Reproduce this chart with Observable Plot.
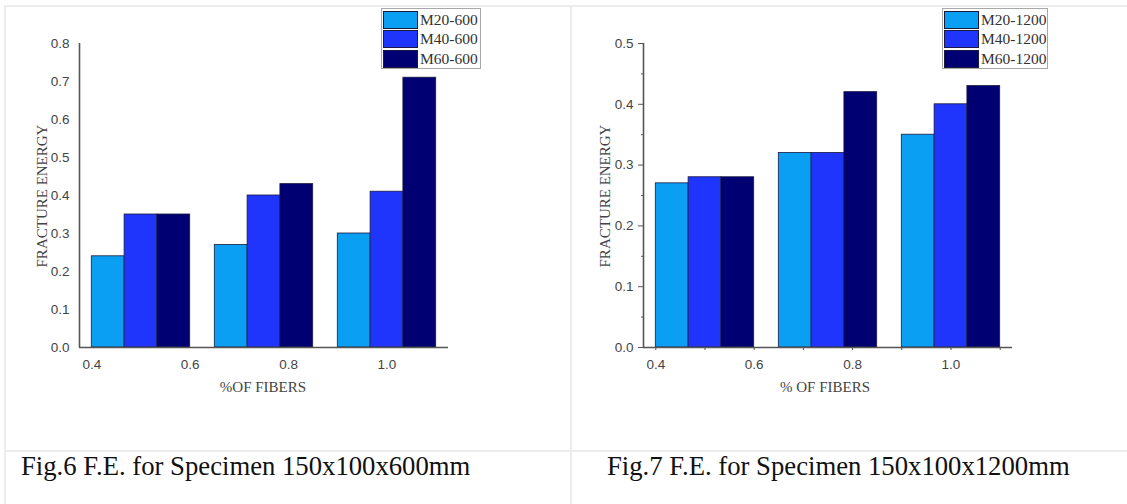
<!DOCTYPE html>
<html>
<head>
<meta charset="utf-8">
<script src="https://cdn.jsdelivr.net/npm/d3@7"></script>
<script src="https://cdn.jsdelivr.net/npm/@observablehq/plot@0.6"></script>
<style>
  body { margin: 0; background: #fff; }
  #root { position: relative; width: 1127px; height: 504px; overflow: hidden; background: #fff; }
  .line { position: absolute; background: #ececec; }
  .chart { position: absolute; top: 0; }
  .ylab { position: absolute; transform: translate(-50%, -50%) rotate(-90deg); white-space: nowrap;
          font-family: "Liberation Serif", "Times New Roman", serif; font-size: 15px; color: #444; }
  .xlab { position: absolute; transform: translate(-50%, -50%); white-space: nowrap;
          font-family: "Liberation Serif", "Times New Roman", serif; font-size: 15px; color: #444; }
  .caption { position: absolute; white-space: nowrap; line-height: 27px;
             font-family: "Liberation Serif", "Times New Roman", serif; font-size: 26.7px; color: #111; }
  .legend { position: absolute; top: 8px; height: 59px; border: 1px solid #a8a8a8; background: #fff; }
  .lrow { position: absolute; left: 0; height: 19px; }
  .sw { position: absolute; left: 1px; top: 1px; width: 33px; height: 16px; border: 1px solid #1a1a40; }
  .lt { position: absolute; left: 38px; top: 0; line-height: 19px; white-space: nowrap;
        font-family: "Liberation Serif", "Times New Roman", serif; font-size: 15.5px; color: #333; }
</style>
</head>
<body>
<div id="root">
  <div class="line" style="left:4px;top:5px;width:1123px;height:2px"></div>
  <div class="line" style="left:4px;top:5px;width:2px;height:499px"></div>
  <div class="line" style="left:570px;top:5px;width:2px;height:499px"></div>
  <div class="line" style="left:4px;top:450px;width:1123px;height:2px"></div>

  <div id="c1" class="chart" style="left:0px"></div>
  <div id="c2" class="chart" style="left:564px"></div>

  <div class="ylab" style="left:42px;top:196px">FRACTURE ENERGY</div>
  <div class="ylab" style="left:605px;top:196px">FRACTURE ENERGY</div>
  <div class="xlab" style="left:263px;top:387px">%OF FIBERS</div>
  <div class="xlab" style="left:825px;top:387px">% OF FIBERS</div>

  <div id="leg1" class="legend" style="left:381px;width:98px"></div>
  <div id="leg2" class="legend" style="left:942px;width:104px"></div>

  <div class="caption" style="left:21px;top:453px">Fig.6 F.E. for Specimen 150x100x600mm</div>
  <div class="caption" style="left:607px;top:453px">Fig.7 F.E. for Specimen 150x100x1200mm</div>
</div>
<script>
// ---- data ----
const fibers = [0.5, 0.75, 1.0];            // % of fibers (group centres)
const series600 = ["M20-600", "M40-600", "M60-600"];
const m20_600 = [0.24, 0.27, 0.30];
const m40_600 = [0.35, 0.40, 0.41];
const m60_600 = [0.35, 0.43, 0.71];
const series1200 = ["M20-1200", "M40-1200", "M60-1200"];
const m20_1200 = [0.27, 0.32, 0.35];
const m40_1200 = [0.28, 0.32, 0.40];
const m60_1200 = [0.28, 0.42, 0.43];
const xTicks = [0.4, 0.6, 0.8, 1.0];
const xMinorTicks = [0.5, 0.7, 0.9, 1.1];
const yTicks600 = [0, 0.1, 0.2, 0.3, 0.4, 0.5, 0.6, 0.7, 0.8];
const yTicks1200 = [0, 0.1, 0.2, 0.3, 0.4, 0.5];
const yMinor1200 = [0.05, 0.15, 0.25, 0.35, 0.45];

// ---- style ----
const COLORS = ["#0a9ff2", "#2035fb", "#000072"];
const X_DOMAIN = [0.375, 1.125];
const GROUP_W = 0.2;
const AXIS = "#555";
const TICK_FONT = 13.5;

function makeChart(series, values, yTicks, withTicks, yMinor) {
  const rows = series.flatMap((s, k) => values[k].map((v, i) => ({fiber: fibers[i], series: s, k, value: v})));
  const bw = GROUP_W / series.length;
  const marks = [
    Plot.rect(rows, {
      x1: d => d.fiber - GROUP_W / 2 + d.k * bw,
      x2: d => d.fiber - GROUP_W / 2 + (d.k + 1) * bw,
      y1: d => 0, y2: "value",
      fill: "series", stroke: "#1a1a40", strokeWidth: 0.8
    }),
    Plot.ruleY([0], {stroke: AXIS, strokeWidth: 1.6}),
    Plot.ruleX([X_DOMAIN[0]], {stroke: AXIS, strokeWidth: 1.6}),
    Plot.axisX({ticks: xTicks, tickFormat: d3.format(".1f"), tickSize: withTicks ? 3 : 0,
                tickPadding: withTicks ? 9 : 12, label: null, stroke: AXIS, fontSize: TICK_FONT, fill: "#444"}),
    Plot.axisY({ticks: yTicks, tickFormat: d3.format(".1f"), tickSize: withTicks ? 5 : 0,
                tickPadding: withTicks ? 5 : 10, label: null, stroke: AXIS, fontSize: TICK_FONT, fill: "#444"})
  ];
  if (withTicks) {
    marks.push(Plot.axisX({ticks: xMinorTicks, tickFormat: () => "", tickSize: 3, label: null, stroke: AXIS}));
    marks.push(Plot.axisY({ticks: yMinor, tickFormat: () => "", tickSize: 2, label: null, stroke: AXIS}));
  }
  return Plot.plot({
    width: 560, height: 420,
    marginTop: 43, marginBottom: 73, marginLeft: 79, marginRight: 112,
    style: {background: "transparent", fontFamily: "'Liberation Sans', Arial, sans-serif", fontSize: "13.5px", color: "#444"},
    x: {domain: X_DOMAIN},
    y: {domain: [0, yTicks[yTicks.length - 1]]},
    color: {domain: series, range: COLORS},
    marks
  });
}

function makeLegend(el, series) {
  series.forEach((s, k) => {
    const row = document.createElement("div");
    row.className = "lrow";
    row.style.top = (1 + k * 19.3) + "px";
    row.style.width = "100%";
    const sw = document.createElement("div");
    sw.className = "sw";
    sw.style.background = COLORS[k];
    const t = document.createElement("div");
    t.className = "lt";
    t.textContent = s;
    row.appendChild(sw);
    row.appendChild(t);
    el.appendChild(row);
  });
}

document.getElementById("c1").appendChild(makeChart(series600, [m20_600, m40_600, m60_600], yTicks600, false));
document.getElementById("c2").appendChild(makeChart(series1200, [m20_1200, m40_1200, m60_1200], yTicks1200, true, yMinor1200));
makeLegend(document.getElementById("leg1"), series600);
makeLegend(document.getElementById("leg2"), series1200);
</script>
</body>
</html>
